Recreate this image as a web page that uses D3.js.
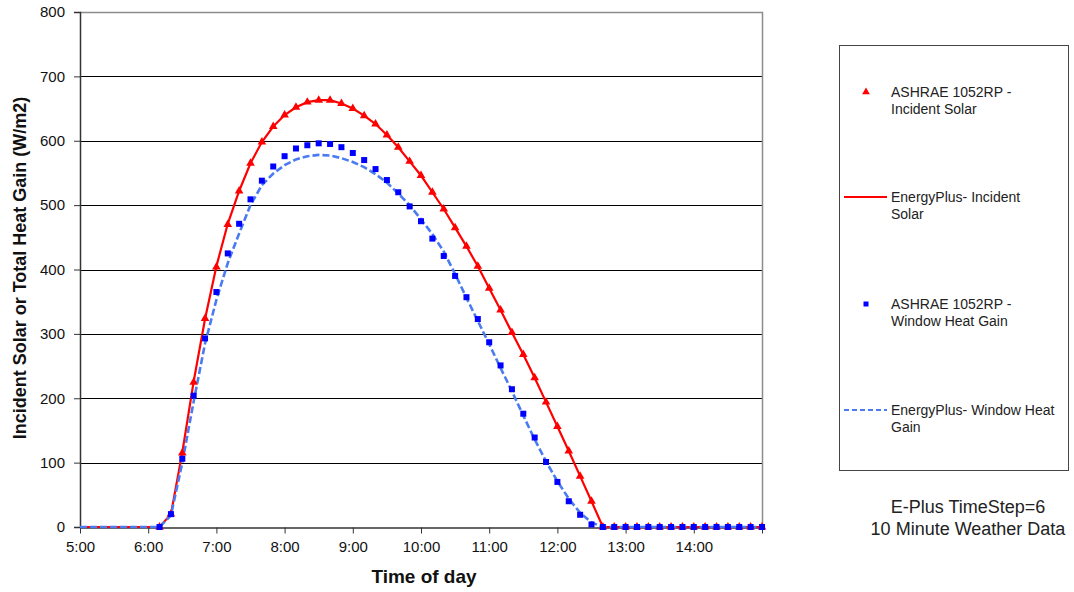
<!DOCTYPE html>
<html>
<head>
<meta charset="utf-8">
<script src="https://cdn.jsdelivr.net/npm/d3@7"></script>
<style>
  html, body { margin: 0; padding: 0; background: #fff; }
  svg { display: block; font-family: "Liberation Sans", Arial, sans-serif; }
</style>
</head>
<body>
<svg id="chart" width="1074" height="592"></svg>
<script>
// ---------- DATA ----------
const epTimes = [
  "5:00","5:10","5:20","5:30","5:40","5:50","6:00","6:10","6:20","6:30","6:40","6:50",
  "7:00","7:10","7:20","7:30","7:40","7:50","8:00","8:10","8:20","8:30","8:40","8:50",
  "9:00","9:10","9:20","9:30","9:40","9:50","10:00","10:10","10:20","10:30","10:40","10:50",
  "11:00","11:10","11:20","11:30","11:40","11:50","12:00","12:10","12:20","12:30","12:40","12:50",
  "13:00","13:10","13:20","13:30","13:40","13:50","14:00","14:10","14:20","14:30","14:40","14:50","15:00"
];
const ashraeTimes = [
  "6:10","6:20","6:30","6:40","6:50",
  "7:00","7:10","7:20","7:30","7:40","7:50","8:00","8:10","8:20","8:30","8:40","8:50",
  "9:00","9:10","9:20","9:30","9:40","9:50","10:00","10:10","10:20","10:30","10:40","10:50",
  "11:00","11:10","11:20","11:30","11:40","11:50","12:00","12:10","12:20","12:30","12:40","12:50",
  "13:00","13:10","13:20","13:30","13:40","13:50","14:00","14:10","14:20","14:30","14:40","14:50","15:00"
];
// EnergyPlus - Incident Solar (solid red line)
const epIncident = [
  0,0,0,0,0,0,0,0,20,116,226,323,
  405,471,522,565,598,622,640,652,660,663,663,658,
  650,639,626,609,590,568,546,520,494,465,436,405,
  371,337,302,268,232,194,156,118,79,40,0,0,
  0,0,0,0,0,0,0,0,0,0,0,0,0
];
// EnergyPlus - Window Heat Gain (dashed blue line)
const epWindow = [
  0,0,0,0,0,0,0,0,18,100,195,285,
  353,410,456,500,531,549,562,571,576,578,577,573,
  567,559,548,535,518,500,478,455,428,393,356,320,
  284,247,211,173,136,102,71,44,22,7,0,0,
  0,0,0,0,0,0,0,0,0,0,0,0,0
];
// ASHRAE 1052RP - Incident Solar (red triangles)
const ashraeIncident = [
  0,20,115,225,324,
  404,470,522,565,598,622,640,652,660,663,663,658,
  650,639,626,609,590,568,546,520,494,465,436,405,
  371,337,302,268,232,194,156,118,79,40,0,0,
  0,0,0,0,0,0,0,0,0,0,0,0,0
];
// ASHRAE 1052RP - Window Heat Gain (blue squares)
const ashraeWindow = [
  0,20,106,204,293,
  365,425,471,509,538,560,576,588,593,596,595,590,
  581,570,556,539,520,498,475,448,421,390,357,323,
  287,251,214,176,139,101,70,40,19,4,0,0,
  0,0,0,0,0,0,0,0,0,0,0,0,0
];
const xTickLabels = ["5:00","6:00","7:00","8:00","9:00","10:00","11:00","12:00","13:00","14:00"];
const yTickValues = [0,100,200,300,400,500,600,700,800];
const legendLabels = [
  ["ASHRAE 1052RP -", "Incident Solar"],
  ["EnergyPlus- Incident", "Solar"],
  ["ASHRAE 1052RP -", "Window Heat Gain"],
  ["EnergyPlus- Window Heat", "Gain"]
];
const noteLines = ["E-Plus TimeStep=6", "10 Minute Weather Data"];
const xTitle = "Time of day";
const yTitle = "Incident Solar or Total Heat Gain (W/m2)";

// ---------- HELPERS ----------
const toHours = s => { const [h, m] = s.split(":").map(Number); return h + m / 60; };
const epData = epTimes.map((t, i) => ({ x: toHours(t), inc: epIncident[i], win: epWindow[i] }));
const ashData = ashraeTimes.map((t, i) => ({ x: toHours(t), inc: ashraeIncident[i], win: ashraeWindow[i] }));

const svg = d3.select("#chart");
const L = 80, R = 762, T = 12, B = 527;
const x = d3.scaleLinear().domain([5, 15]).range([L, R]);
const y = d3.scaleLinear().domain([0, 800]).range([B, T]);
const px = v => Math.round(v) + 0.5;

const RED = "#ff0000", BLUE = "#0000ff", DASH = "#4a7bf0";

// gridlines
svg.append("g").selectAll("line")
  .data(yTickValues.filter(v => v > 0 && v < 800))
  .join("line")
  .attr("x1", L).attr("x2", R)
  .attr("y1", d => px(y(d))).attr("y2", d => px(y(d)))
  .attr("stroke", "#000").attr("stroke-width", 1);

// plot border (top and right)
svg.append("path")
  .attr("d", `M${L},${px(y(800))}H${px(R)}V${px(y(0))}`)
  .attr("fill", "none").attr("stroke", "#8c8c8c").attr("stroke-width", 1.5);

// y axis
const yAxis = d3.axisLeft(y).tickValues(yTickValues).tickSize(6).tickPadding(9).tickFormat(d3.format("d"));
const gy = svg.append("g").attr("transform", `translate(${L},0)`).call(yAxis);
gy.select(".domain").attr("stroke", "#333").attr("stroke-width", 1.5);
gy.selectAll(".tick line").attr("stroke", "#333");
gy.selectAll(".tick text").attr("font-size", 15).attr("fill", "#111")
  .attr("font-family", "Liberation Sans, Arial, sans-serif");

// x axis
const xTickHours = xTickLabels.map(toHours);
const xAxis = d3.axisBottom(x)
  .tickValues(xTickHours.concat([15]))
  .tickSize(6).tickSizeOuter(0).tickPadding(8)
  .tickFormat(d => { const i = xTickHours.indexOf(d); return i >= 0 ? xTickLabels[i] : ""; });
const gx = svg.append("g").attr("transform", `translate(0,${px(y(0))})`).call(xAxis);
gx.select(".domain").attr("stroke", "#333").attr("stroke-width", 1.5);
gx.selectAll(".tick line").attr("stroke", "#333");
gx.selectAll(".tick text").attr("font-size", 15).attr("fill", "#111")
  .attr("font-family", "Liberation Sans, Arial, sans-serif");

// lines
const lineInc = d3.line().x(d => x(d.x)).y(d => y(d.inc));
const lineWin = d3.line().x(d => x(d.x)).y(d => y(d.win));
svg.append("path").datum(epData).attr("d", lineInc)
  .attr("fill", "none").attr("stroke", RED).attr("stroke-width", 2.2);
svg.append("path").datum(epData).attr("d", lineWin)
  .attr("fill", "none").attr("stroke", DASH).attr("stroke-width", 2.6)
  .attr("stroke-dasharray", "7,3");

// markers
const tri = d3.symbol().type(d3.symbolTriangle).size(32);
svg.append("g").selectAll("path")
  .data(ashData).join("path")
  .attr("d", tri)
  .attr("transform", d => `translate(${x(d.x)},${y(d.inc)})`)
  .attr("fill", RED);
svg.append("g").selectAll("rect")
  .data(ashData).join("rect")
  .attr("x", d => x(d.x) - 3).attr("y", d => y(d.win) - 3)
  .attr("width", 6).attr("height", 6)
  .attr("fill", BLUE);

// axis titles
svg.append("text")
  .attr("x", 424).attr("y", 583)
  .attr("text-anchor", "middle").attr("font-size", 19).attr("font-weight", "bold")
  .attr("fill", "#111").text(xTitle);
svg.append("text")
  .attr("transform", "translate(26,268) rotate(-90)")
  .attr("text-anchor", "middle").attr("font-size", 18).attr("font-weight", "bold")
  .attr("fill", "#111").text(yTitle);

// legend
const lg = svg.append("g");
lg.append("rect").attr("x", 839.5).attr("y", 45.5).attr("width", 229).attr("height", 425)
  .attr("fill", "#fff").attr("stroke", "#444").attr("stroke-width", 1);
const entryY = [92, 197, 304, 410];
legendLabels.forEach((lines, i) => {
  const cy = entryY[i];
  if (i === 0) {
    lg.append("path").attr("d", d3.symbol().type(d3.symbolTriangle).size(26))
      .attr("transform", `translate(866,${cy})`).attr("fill", RED);
  } else if (i === 1) {
    lg.append("line").attr("x1", 844).attr("x2", 887).attr("y1", cy).attr("y2", cy)
      .attr("stroke", RED).attr("stroke-width", 2);
  } else if (i === 2) {
    lg.append("rect").attr("x", 863.5).attr("y", cy - 2.5).attr("width", 5).attr("height", 5).attr("fill", BLUE);
  } else {
    lg.append("line").attr("x1", 844).attr("x2", 887).attr("y1", cy).attr("y2", cy)
      .attr("stroke", DASH).attr("stroke-width", 2).attr("stroke-dasharray", "5,3");
  }
  lines.forEach((t, j) => {
    lg.append("text").attr("x", 891).attr("y", cy + 5 + j * 17)
      .attr("font-size", 14).attr("fill", "#222").text(t);
  });
});

// note
noteLines.forEach((t, j) => {
  svg.append("text").attr("x", 968).attr("y", 513 + j * 22)
    .attr("text-anchor", "middle").attr("font-size", 18).attr("fill", "#222").text(t);
});
</script>
</body>
</html>
